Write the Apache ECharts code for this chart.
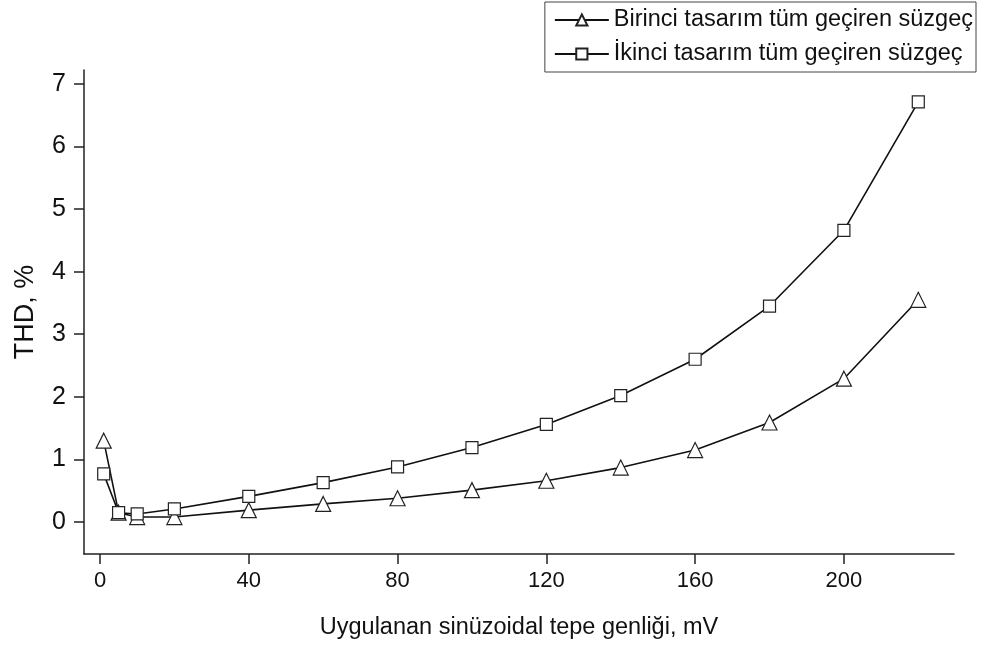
<!DOCTYPE html>
<html><head><meta charset="utf-8">
<script src="https://cdn.jsdelivr.net/npm/echarts@6/dist/echarts.min.js"></script>
<style>html,body{margin:0;padding:0;background:#fff}#c{width:981px;height:646px}</style>
</head><body><div id="c"></div>
<script>
const xValues = [1, 5, 10, 20, 40, 60, 80, 100, 120, 140, 160, 180, 200, 220];
const birinci = [1.30, 0.15, 0.08, 0.08, 0.19, 0.29, 0.38, 0.51, 0.66, 0.87, 1.15, 1.59, 2.29, 3.55];
const ikinci = [0.77, 0.15, 0.13, 0.21, 0.41, 0.63, 0.88, 1.19, 1.56, 2.02, 2.60, 3.45, 4.66, 6.71];
const seriesNames = ['Birinci tasarım tüm geçiren süzgeç', 'İkinci tasarım tüm geçiren süzgeç'];
const xTicks = [0, 40, 80, 120, 160, 200];
const yTicks = [0, 1, 2, 3, 4, 5, 6, 7];

const font = 'Liberation Sans, Arial, sans-serif';
const chart = echarts.init(document.getElementById('c'));
const mk = (vals) => xValues.map((x, i) => [x, vals[i]]);
chart.setOption({
  animation: false,
  backgroundColor: '#fff',
  legend: {
    orient: 'vertical', right: 5, top: 2, align: 'left',
    borderColor: '#444', borderWidth: 1, padding: [6, 3, 6, 9],
    itemWidth: 54, itemHeight: 14, itemGap: 10,
    textStyle: { fontFamily: font, fontSize: 23.5, color: '#111' },
    data: seriesNames
  },
  grid: { left: 84, right: 27, top: 70, bottom: 92, containLabel: false, outerBoundsMode: 'none' },
  xAxis: {
    type: 'value', min: -4.3, max: 229.6,
    name: 'Uygulanan sinüzoidal tepe genliği, mV', nameLocation: 'middle', nameGap: 62,
    nameTextStyle: { fontFamily: font, fontSize: 23.5, color: '#111' },
    axisLine: { onZero: false, lineStyle: { color: '#222', width: 1.5 } },
    axisTick: { show: true, inside: false, length: 10, lineStyle: { color: '#222', width: 1.5 },
      customValues: xTicks },
    axisLabel: { fontFamily: font, fontSize: 22, color: '#111', margin: 16,
      customValues: xTicks },
    splitLine: { show: false }
  },
  yAxis: {
    type: 'value', min: -0.51, max: 7.22,
    name: 'THD, %', nameLocation: 'middle', nameGap: 45,
    nameTextStyle: { fontFamily: font, fontSize: 27, color: '#111' },
    axisLine: { show: true, onZero: false, lineStyle: { color: '#222', width: 1.5 } },
    axisTick: { show: true, length: 10, lineStyle: { color: '#222', width: 1.5 },
      customValues: yTicks },
    axisLabel: { fontFamily: font, fontSize: 25, color: '#111', margin: 18,
      customValues: yTicks },
    splitLine: { show: false }
  },
  series: [
    { name: seriesNames[0], type: 'line', data: mk(birinci), symbol: 'triangle', symbolSize: 15,
      lineStyle: { color: '#111', width: 1.6 }, itemStyle: { color: '#fff', borderColor: '#222', borderWidth: 1.2 } },
    { name: seriesNames[1], type: 'line', data: mk(ikinci), symbol: 'rect', symbolSize: 12,
      lineStyle: { color: '#111', width: 1.6 }, itemStyle: { color: '#fff', borderColor: '#222', borderWidth: 1.2 } }
  ]
});
</script></body></html>
